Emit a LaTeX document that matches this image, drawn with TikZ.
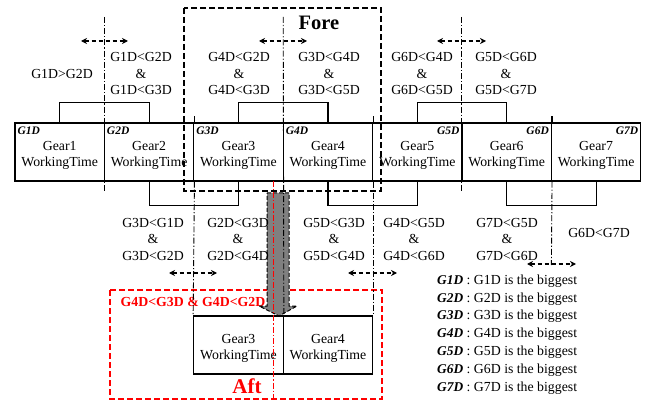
\documentclass[tikz,border=0pt]{standalone}
\usepackage{fontspec}
\setmainfont{Liberation Serif}
\usetikzlibrary{arrows.meta}
\newcommand\geartext[1]{\raisebox{-3pt}[\height][\depth]{\begin{tabular}{@{}c@{}}#1\\WorkingTime\end{tabular}}}
\begin{document}
\begin{tikzpicture}[x=1pt,y=-1pt,
  every node/.style={font=\fontsize{13.8}{16.5}\selectfont, inner sep=0pt},
  gearbox/.style={draw, line width=1.3pt, minimum width=89.4pt, minimum height=58pt, align=center},
  tagl/.style={font=\fontsize{11.5}{12}\selectfont\bfseries\itshape},
  lbl/.style={align=center},
  dd/.style={line width=0.9pt, dash pattern=on 6pt off 2pt on 1.2pt off 2pt},
  ddred/.style={dd, red, line width=1.1pt},
  darr/.style={line width=1.1pt, dash pattern=on 4pt off 3pt, {Stealth[length=6pt,width=6pt]}-{Stealth[length=6pt,width=6pt]}},
  brk/.style={line width=1.2pt},
  forebox/.style={draw, line width=1.4pt, dash pattern=on 6pt off 3pt},
  aftbox/.style={draw=red, line width=1.4pt, dash pattern=on 6pt off 3pt},
  bigarrow/.style={draw, fill=gray, line width=1pt, dash pattern=on 4pt off 2pt},
  legtag/.style={font=\fontsize{13.4}{14}\selectfont\bfseries\itshape}
]
\useasboundingbox (0,0) rectangle (646,401);

% Fore box
\draw[forebox] (184,8) rectangle (381,191);
\node[font=\fontsize{20.5}{22}\selectfont\bfseries] (fore) at (319,23) {Fore};

% Aft box
\draw[aftbox] (110,290) rectangle (382,399);
\node[font=\fontsize{21}{22}\selectfont\bfseries, text=red] (aft) at (247,386) {Aft};
\node[font=\fontsize{13.8}{16}\selectfont\bfseries, text=red] (aftlbl) at (193,302) {G4D<G3D \& G4D<G2D};

% big gray arrow
\draw[bigarrow] (267,193) -- (289,193) -- (289,306) -- (297,306) -- (279,316) -- (259,306) -- (267,306) -- cycle;

% gear boxes
\node[gearbox] (g1) at (59.7,152) {\geartext{Gear1}};
\node[gearbox] (g2) at (149.1,152) {\geartext{Gear2}};
\node[gearbox] (g3) at (238.5,152) {\geartext{Gear3}};
\node[gearbox] (g4) at (327.9,152) {\geartext{Gear4}};
\node[gearbox] (g5) at (417.3,152) {\geartext{Gear5}};
\node[gearbox] (g6) at (506.7,152) {\geartext{Gear6}};
\node[gearbox] (g7) at (596.1,152) {\geartext{Gear7}};

\node[gearbox] (a3) at (238.5,345) {\geartext{Gear3}};
\node[gearbox] (a4) at (327.9,345) {\geartext{Gear4}};

% tags
\node[tagl, anchor=north west] (t1) at ([shift={(3,4)}]g1.north west) {G1D};
\node[tagl, anchor=north west] (t2) at ([shift={(3,4)}]g2.north west) {G2D};
\node[tagl, anchor=north west] (t3) at ([shift={(3,4)}]g3.north west) {G3D};
\node[tagl, anchor=north west] (t4) at ([shift={(3,4)}]g4.north west) {G4D};
\node[tagl, anchor=north east] (t5) at ([shift={(-3,4)}]g5.north east) {G5D};
\node[tagl, anchor=north east] (t6) at ([shift={(-3,4)}]g6.north east) {G6D};
\node[tagl, anchor=north east] (t7) at ([shift={(-3,4)}]g7.north east) {G7D};

% brackets above
\draw[brk] (g1.north) -- ++(0,-20) -| (g2.north);
\draw[brk] (g3.north) -- ++(0,-20) -| (g4.north);
\draw[brk] (g5.north) -- ++(0,-20) -| (g6.north);
% brackets below
\draw[brk] (g2.south) -- ++(0,24) -| (g3.south);
\draw[brk] (g4.south) -- ++(0,24) -| (g5.south);
\draw[brk] (g6.south) -- ++(0,24) -| (g7.south);

% short solid extensions of dividers
\draw[line width=1.2pt] (g2.north east) -- ++(0,-6);
\draw[line width=1.2pt] (g4.north east) -- ++(0,-6);
\draw[line width=1.2pt] (g6.north east) -- ++(0,-6);

% dash-dot lines
\coordinate (d12t) at (104.4,17);
\coordinate (d12b) at (104.4,191);
\coordinate (d34t) at (283.2,17);
\coordinate (d56t) at (461.0,17);
\coordinate (d56b) at (461.0,191);
\coordinate (d67b) at (551.4,265);
\draw[dd] (d12t) -- (d12b);
\draw[dd] (d34t) -- (a3.north east);
\draw[dd] (d56t) -- (d56b);
\draw[dd] (g2.south east) -- (a3.north west);
\draw[dd] (g4.south east) -- (a4.north east);
\draw[dd] (g6.south east) -- (d67b);
\coordinate (rt) at (273.5,181);
\coordinate (rb) at (273.5,399);
\draw[ddred] (rt) -- (rb);

% double arrows
\draw[darr] (81,41) -- (128,41);
\draw[darr] (259,41) -- (307,41);
\draw[darr] (437,41) -- (486,41);
\draw[darr] (169,273) -- (217,273);
\draw[darr] (348,273) -- (397,273);
\draw[darr] (527,264) -- (576,264);

% top labels
\node[lbl] (l1) at (62,74) {G1D>G2D};
\node[lbl] (l2) at (141,74) {G1D<G2D\\\&\\G1D<G3D};
\node[lbl] (l3) at (239,74) {G4D<G2D\\\&\\G4D<G3D};
\node[lbl] (l4) at (329,74) {G3D<G4D\\\&\\G3D<G5D};
\node[lbl] (l5) at (422,74) {G6D<G4D\\\&\\G6D<G5D};
\node[lbl] (l6) at (506,74) {G5D<G6D\\\&\\G5D<G7D};

% bottom labels
\node[lbl] (m1) at (153,239) {G3D<G1D\\\&\\G3D<G2D};
\node[lbl] (m2) at (238,239) {G2D<G3D\\\&\\G2D<G4D};
\node[lbl] (m3) at (334,239) {G5D<G3D\\\&\\G5D<G4D};
\node[lbl] (m4) at (414,239) {G4D<G5D\\\&\\G4D<G6D};
\node[lbl] (m5) at (507,239) {G7D<G5D\\\&\\G7D<G6D};
\node[lbl] (m6) at (599,233) {G6D<G7D};

% legend
\foreach \i in {1,...,7}{
  \node[anchor=west] (leg\i) at (437,{281+17.8*(\i-1)}) {{\fontsize{13.4}{14}\selectfont\bfseries\itshape G\i D} : G\i D is the biggest};
}
\end{tikzpicture}
\end{document}
